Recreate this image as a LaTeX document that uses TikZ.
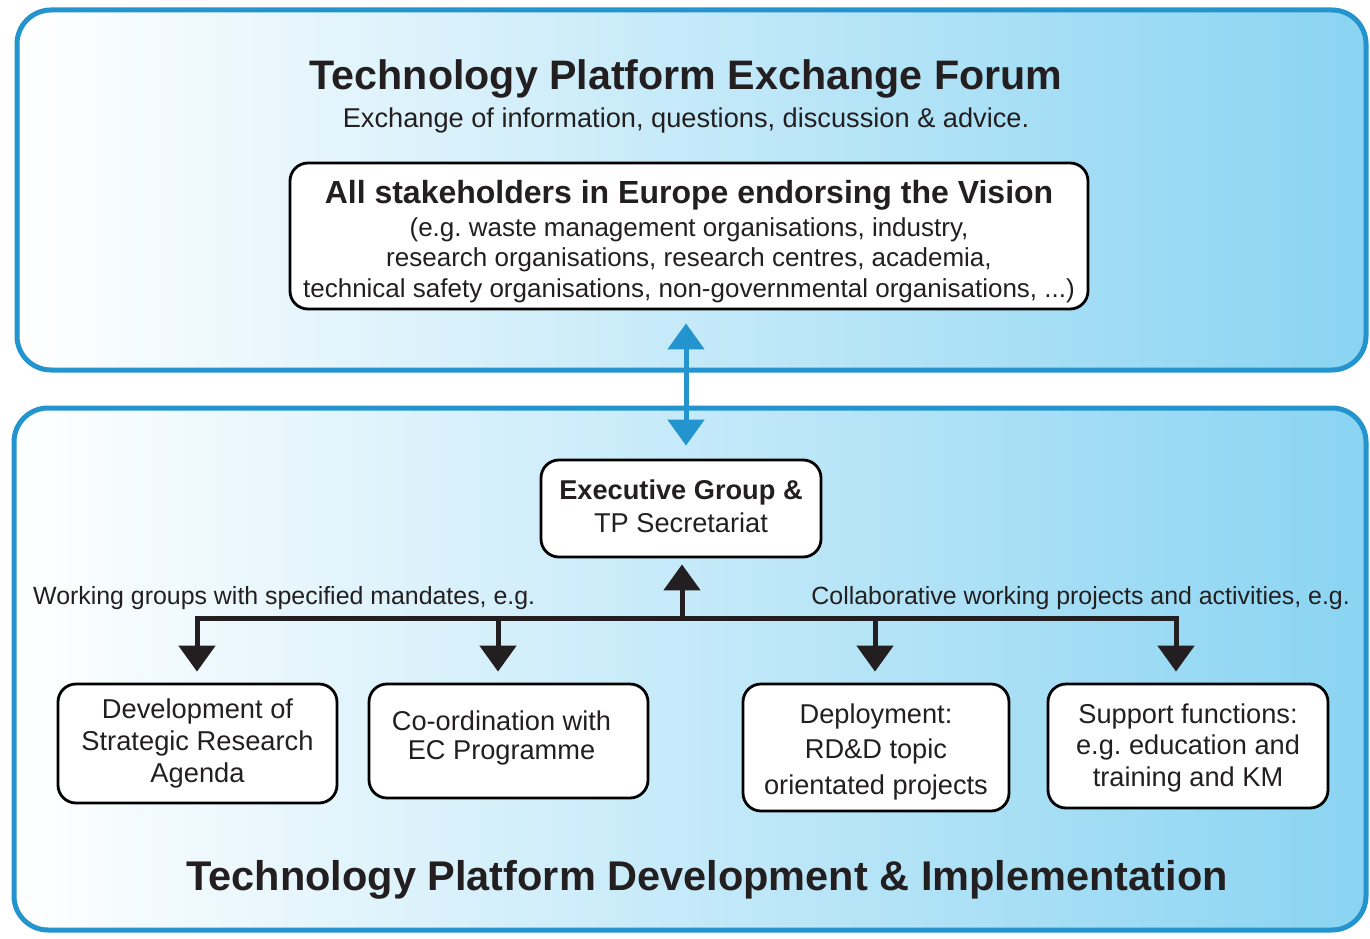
\documentclass[tikz,border=0pt]{standalone}
\usepackage{fontspec}
\setmainfont{Liberation Sans}
\usetikzlibrary{arrows.meta,calc}
\definecolor{tpblue}{HTML}{2394CE}
\definecolor{tplight}{HTML}{8AD4F2}
\definecolor{txt}{HTML}{231F20}
\begin{document}
\frenchspacing
\begin{tikzpicture}[x=1pt,y=-1pt,
  panel/.style={draw=tpblue,line width=5pt,rounded corners=34pt,left color=white,right color=tplight},
  box/.style={draw=black,line width=2.8pt,fill=white,rounded corners=18pt,inner sep=0pt,align=center,text=txt},
  lbl/.style={text=txt,inner sep=0pt},
  blk/.style={line width=5pt,draw=txt},
  blkarrow/.style={blk,-{Triangle[width=36pt,length=26pt]}},
  bluearrow/.style={line width=5pt,draw=tpblue,{Triangle[width=36pt,length=26pt]}-{Triangle[width=36pt,length=26pt]}},
]
\useasboundingbox (0,0) rectangle (1370,939);
% panels
\path[panel] (17,10) rectangle (1366,370);
\path[panel] (14,408) rectangle (1366,930);
% top panel texts
\node[lbl,anchor=base,font=\bfseries\fontsize{41.2}{41.2}\selectfont] (title1) at (686,90) {Technology Platform Exchange Forum};
\node[lbl,anchor=base,font=\fontsize{27.2}{27.2}\selectfont] (sub1) at (686,128) {Exchange of information, questions, discussion \& advice.};
\node[box,minimum width=798pt,minimum height=146pt,font=\fontsize{26}{30.5}\selectfont] (stake) at (689,236)
  {\rule{0pt}{34pt}{\bfseries\fontsize{32}{32}\selectfont All stakeholders in Europe endorsing the Vision}\\[2.5pt]
   (e.g. waste management organisations, industry,\\
   research organisations, research centres, academia,\\
   technical safety organisations, non-governmental organisations, ...)};
% executive box
\node[box,minimum width=280pt,minimum height=97pt,font=\fontsize{27.2}{33}\selectfont] (exec) at (681,508.5)
  {{\bfseries Executive Group \&}\\TP Secretariat\rule[-4pt]{0pt}{0pt}};
% bottom boxes
\node[box,minimum width=279pt,minimum height=119pt,font=\fontsize{27.3}{32}\selectfont] (b1) at (197.5,743.5)
  {Development of\\Strategic Research\\Agenda};
\node[box,minimum width=279pt,minimum height=114pt,font=\fontsize{27.2}{29.5}\selectfont] (b2) at (508.5,741)
  {Co-ordination with\hspace*{14pt}\\EC Programme\hspace*{14pt}\rule[-12pt]{0pt}{0pt}};
\node[box,minimum width=266pt,minimum height=127pt,font=\fontsize{27.2}{35.5}\selectfont] (b3) at (876,747.5)
  {\rule{0pt}{28pt}Deployment:\\RD\&D topic\\orientated projects};
\node[box,minimum width=280pt,minimum height=124pt,font=\fontsize{27.2}{31.5}\selectfont] (b4) at (1188,746)
  {\rule{0pt}{23pt}Support functions:\\e.g. education and\\training and KM};
% labels
\node[lbl,anchor=base west,font=\fontsize{24.9}{24.9}\selectfont] (lblL) at (33,604) {Working groups with specified mandates, e.g.};
\node[lbl,anchor=base east,font=\fontsize{24.9}{24.9}\selectfont] (lblR) at (1350,604) {Collaborative working projects and activities, e.g.};
\node[lbl,anchor=base,font=\bfseries\fontsize{41.5}{41.5}\selectfont] (title2) at (707,890) {Technology Platform Development \& Implementation};
% connectors
\coordinate (ax) at (686,0);
\draw[bluearrow,shorten <=13pt,shorten >=13pt] (stake.south -| ax) -- (exec.north -| ax);
\coordinate (j) at (682,618);
\coordinate (x1) at (197,618);
\coordinate (x2) at (498,618);
\coordinate (x3) at (875,618);
\coordinate (x4) at (1176,618);
\draw[blk,line cap=rect] (x1) -- (x4);
\draw[blkarrow,shorten >=6pt] (j) -- (exec.south -| j);
\draw[blkarrow,shorten >=11pt] (x1) -- (b1.north -| x1);
\draw[blkarrow,shorten >=11pt] (x2) -- (b2.north -| x2);
\draw[blkarrow,shorten >=11pt] (x3) -- (b3.north -| x3);
\draw[blkarrow,shorten >=11pt] (x4) -- (b4.north -| x4);
\end{tikzpicture}
\end{document}
